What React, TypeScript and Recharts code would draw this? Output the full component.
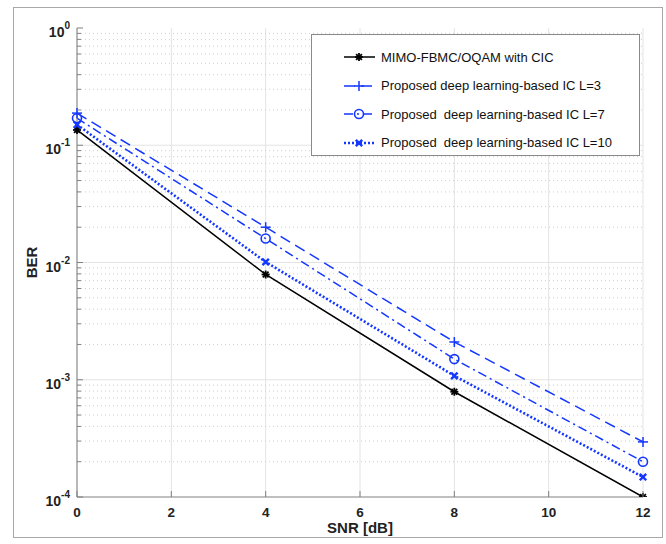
import React from "react";
import {
  LineChart,
  Line,
  XAxis,
  YAxis,
  CartesianGrid,
  ReferenceLine,
  Legend,
} from "recharts";

const SNR = [0, 4, 8, 12];
const BER_CIC = [0.135, 0.0079, 0.00079, 0.0001];
const BER_L3 = [0.188, 0.02, 0.0021, 0.000295];
const BER_L7 = [0.17, 0.016, 0.0015, 0.0002];
const BER_L10 = [0.15, 0.0101, 0.00108, 0.000148];

const X_TICKS = [0, 2, 4, 6, 8, 10, 12];
const DECADES = [1e-4, 1e-3, 1e-2, 1e-1, 1];
const MINORS = [1e-4, 1e-3, 1e-2, 1e-1].flatMap((d) =>
  [2, 3, 4, 5, 6, 7, 8, 9].map((m) => m * d)
);
const Y_TICKS = [...DECADES, ...MINORS].sort((a, b) => a - b);

const BLUE = "#1437ff";
const FONT = "'Liberation Sans', Arial, Helvetica, sans-serif";
const AXIS = "#808080";

const data = SNR.map((snr, i) => ({
  snr,
  cic: BER_CIC[i],
  l3: BER_L3[i],
  l7: BER_L7[i],
  l10: BER_L10[i],
}));

type MarkerKind = "star" | "plus" | "circle" | "cross";

function Marker({ kind, cx, cy, color }: { kind: MarkerKind; cx: number; cy: number; color: string }) {
  if (kind === "star") {
    const r = 4;
    const d = 2.9;
    return (
      <g stroke={color} strokeWidth={1.8}>
        <line x1={cx - r} y1={cy} x2={cx + r} y2={cy} />
        <line x1={cx} y1={cy - r} x2={cx} y2={cy + r} />
        <line x1={cx - d} y1={cy - d} x2={cx + d} y2={cy + d} />
        <line x1={cx - d} y1={cy + d} x2={cx + d} y2={cy - d} />
      </g>
    );
  }
  if (kind === "plus") {
    const r = 5;
    return (
      <g stroke={color} strokeWidth={1.5}>
        <line x1={cx - r} y1={cy} x2={cx + r} y2={cy} />
        <line x1={cx} y1={cy - r} x2={cx} y2={cy + r} />
      </g>
    );
  }
  if (kind === "circle") {
    return <circle cx={cx} cy={cy} r={4.5} fill="none" stroke={color} strokeWidth={1.6} />;
  }
  const r = 3.2;
  return (
    <g stroke={color} strokeWidth={2.4}>
      <line x1={cx - r} y1={cy - r} x2={cx + r} y2={cy + r} />
      <line x1={cx - r} y1={cy + r} x2={cx + r} y2={cy - r} />
    </g>
  );
}

const SERIES = [
  { key: "cic", name: "MIMO-FBMC/OQAM with CIC", color: "#000000", dash: undefined, width: 1.5, marker: "star" as MarkerKind },
  { key: "l3", name: "Proposed deep learning-based IC L=3", color: BLUE, dash: "11 6", width: 1.5, marker: "plus" as MarkerKind },
  { key: "l7", name: "Proposed  deep learning-based IC L=7", color: BLUE, dash: "9 4 2 4", width: 1.5, marker: "circle" as MarkerKind },
  { key: "l10", name: "Proposed  deep learning-based IC L=10", color: BLUE, dash: "2 2", width: 2.6, marker: "cross" as MarkerKind },
];

const isDecade = (v: number) => Math.abs(Math.log10(v) - Math.round(Math.log10(v))) < 1e-6;

function LeftTick(props: any) {
  const { x, y, payload } = props;
  const v = payload.value;
  const major = isDecade(v);
  return (
    <g>
      <line x1={x} y1={y} x2={x + (major ? 6 : 4)} y2={y} stroke={AXIS} strokeWidth={1} />
      {major && (
        <text x={x - 7} y={y + 9} textAnchor="end" fontFamily={FONT} fontWeight="bold" fontSize={14} fill="#222">
          10
          <tspan dy={-8} fontSize={10}>
            {String(Math.round(Math.log10(v)))}
          </tspan>
        </text>
      )}
    </g>
  );
}

function RightTick(props: any) {
  const { x, y, payload } = props;
  const major = isDecade(payload.value);
  return <line x1={x} y1={y} x2={x - (major ? 6 : 4)} y2={y} stroke={AXIS} strokeWidth={1} />;
}

function BottomTick(props: any) {
  const { x, y, payload } = props;
  return (
    <g>
      <line x1={x} y1={y} x2={x} y2={y - 6} stroke={AXIS} strokeWidth={1} />
      <text x={x} y={y + 20} textAnchor="middle" fontFamily={FONT} fontWeight="bold" fontSize={13.5} fill="#222">
        {payload.value}
      </text>
    </g>
  );
}

function TopTick(props: any) {
  const { x, y } = props;
  return <line x1={x} y1={y} x2={x} y2={y + 6} stroke={AXIS} strokeWidth={1} />;
}

function LegendBox() {
  return (
    <div
      style={{
        width: 329,
        height: 122,
        border: "1px solid #8a8a8a",
        background: "#fff",
        boxSizing: "border-box",
        paddingTop: 8,
      }}
    >
      {SERIES.map((s) => (
        <div key={s.key} style={{ display: "flex", alignItems: "center", height: 28.5 }}>
          <svg width={69} height={14} style={{ flex: "none" }}>
            <line x1={32} y1={7} x2={63} y2={7} stroke={s.color} strokeWidth={s.width} strokeDasharray={s.dash} />
            <Marker kind={s.marker} cx={47} cy={7} color={s.color} />
          </svg>
          <span style={{ fontFamily: FONT, fontSize: 13, color: "#111", whiteSpace: "pre" }}>{s.name}</span>
        </div>
      ))}
    </div>
  );
}

export default function App() {
  return (
    <div style={{ position: "fixed", left: 0, top: 0, width: 666, height: 544, background: "#fff" }}>
      <div
        style={{
          position: "absolute",
          left: 13,
          top: 7,
          width: 650,
          height: 531,
          border: "1px solid #a8a8a8",
          boxSizing: "border-box",
        }}
      />
      <div style={{ position: "absolute", left: 0, top: 0 }}>
        <LineChart width={666} height={544} data={data} margin={{ top: 28, right: 23, left: 27, bottom: 0 }}>
          <CartesianGrid horizontal={false} stroke="#e3e3e3" strokeWidth={1} />
          {MINORS.map((v) => (
            <ReferenceLine key={"m" + v} y={v} stroke="#cfcfcf" strokeDasharray="1 3" strokeWidth={1} />
          ))}
          {DECADES.slice(1, 4).map((v) => (
            <ReferenceLine key={"d" + v} y={v} stroke="#e3e3e3" strokeWidth={1} />
          ))}
          <XAxis
            dataKey="snr"
            type="number"
            domain={[0, 12]}
            ticks={X_TICKS}
            interval={0}
            height={47}
            tickSize={0}
            tickMargin={0}
            tickLine={false}
            stroke={AXIS}
            tick={<BottomTick />}
            label={(p: any) => {
              const vb = p.viewBox;
              return (
                <text x={vb.x + vb.width / 2} y={vb.y + 36} textAnchor="middle" fontFamily={FONT} fontWeight="bold" fontSize={15} fill="#222">
                  SNR [dB]
                </text>
              );
            }}
          />
          <XAxis
            xAxisId="top"
            orientation="top"
            dataKey="snr"
            type="number"
            domain={[0, 12]}
            ticks={X_TICKS}
            interval={0}
            height={0}
            tickSize={0}
            tickMargin={0}
            tickLine={false}
            stroke={AXIS}
            tick={<TopTick />}
          />
          <YAxis
            scale="log"
            type="number"
            domain={[1e-4, 1]}
            allowDataOverflow
            ticks={Y_TICKS}
            interval={0}
            width={50}
            tickSize={0}
            tickMargin={0}
            tickLine={false}
            stroke={AXIS}
            tick={<LeftTick />}
            label={(p: any) => {
              const vb = p.viewBox;
              const cy = vb.y + vb.height / 2;
              return (
                <text x={37} y={cy} transform={`rotate(-90 37 ${cy})`} textAnchor="middle" fontFamily={FONT} fontWeight="bold" fontSize={15} fill="#222">
                  BER
                </text>
              );
            }}
          />
          <YAxis
            yAxisId="right"
            orientation="right"
            scale="log"
            type="number"
            domain={[1e-4, 1]}
            allowDataOverflow
            ticks={Y_TICKS}
            interval={0}
            width={0}
            tickSize={0}
            tickMargin={0}
            tickLine={false}
            stroke={AXIS}
            tick={<RightTick />}
          />
          {SERIES.map((s) => (
            <Line
              key={s.key}
              dataKey={s.key}
              name={s.name}
              stroke={s.color}
              strokeWidth={s.width}
              strokeDasharray={s.dash}
              isAnimationActive={false}
              dot={(p: any) => <Marker key={s.key + p.index} kind={s.marker} cx={p.cx} cy={p.cy} color={s.color} />}
              activeDot={false}
            />
          ))}
          <Legend
            layout="vertical"
            align="center"
            verticalAlign="middle"
            content={() => <LegendBox />}
            wrapperStyle={{ position: "absolute", left: 311, top: 34, width: 329, height: 122 }}
          />
        </LineChart>
      </div>
    </div>
  );
}
